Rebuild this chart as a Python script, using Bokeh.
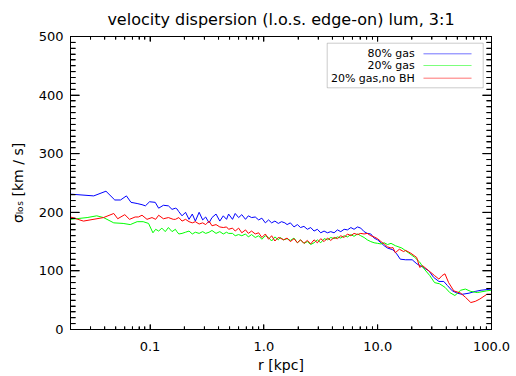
import math
from bokeh.plotting import figure
from bokeh.models import (LogAxis, LinearAxis, FixedTicker, SingleIntervalTicker,
                          Label, BoxAnnotation, ColumnDataSource, CustomJSTickFormatter)
from bokeh.embed import file_html
from bokeh.resources import INLINE

title = "velocity dispersion (l.o.s. edge-on) lum, 3:1"
x_label = "r [kpc]"
y_label = "σₗₒₛ [km / s]"
series_names = ["80% gas", "20% gas", "20% gas,no BH"]
series_colors = ["#0000ff", "#00ff00", "#ff0000"]

x_lim = (0.02, 100)
y_lim = (0, 500)
x_major = [0.1, 1, 10, 100]
x_major_labels = {0.1: "0.1", 1: "1.0", 10: "10.0", 100: "100.0"}
x_minor = [0.02, 0.03, 0.04, 0.05, 0.06, 0.07, 0.08, 0.09,
           0.2, 0.3, 0.4, 0.5, 0.6, 0.7, 0.8, 0.9,
           2, 3, 4, 5, 6, 7, 8, 9,
           20, 30, 40, 50, 60, 70, 80, 90]
y_major = [0, 100, 200, 300, 400, 500]
y_minor = [v for v in range(10, 500, 10) if v % 100]

r_80 = [0.020, 0.032, 0.041, 0.049, 0.055, 0.062, 0.068, 0.077, 0.085, 0.091, 0.099, 0.111,
        0.119, 0.131, 0.145, 0.156, 0.167, 0.172, 0.179, 0.191, 0.205, 0.22, 0.235, 0.25,
        0.27, 0.29, 0.308, 0.33, 0.35, 0.38, 0.41, 0.44, 0.47, 0.49, 0.53, 0.56, 0.60, 0.64,
        0.69, 0.73, 0.78, 0.84, 0.90, 0.96, 1.03, 1.10, 1.17, 1.25, 1.34, 1.43, 1.53, 1.60,
        1.71, 1.84, 1.97, 2.1, 2.25, 2.41, 2.58, 2.76, 2.95, 3.16, 3.38, 3.62, 3.87, 4.14,
        4.43, 4.74, 5.07, 5.43, 5.81, 6.2, 6.65, 7.1, 7.6, 8.1, 8.7, 9.3, 9.97, 10.7, 11.4,
        12.2, 13.1, 13.6, 14.7, 15.8, 17.6, 20.1, 22.1, 24.6, 28.2, 31, 34.5, 38.1, 41,
        45.2, 50, 55, 63.5, 72, 81, 100]
s_80 = [231, 228, 236, 221, 221, 228, 217, 215, 213, 211, 218, 217,
        207, 212, 211, 205, 207, 206, 201, 194, 200, 188, 197, 185,
        200, 187, 192, 182, 191, 197, 185, 194, 188, 197, 188, 198, 191, 196,
        188, 194, 191, 192, 187, 190, 182, 187, 182, 185, 181, 184, 182, 179,
        182, 175, 179, 174, 176, 171, 174, 168, 171, 165, 168, 165, 167, 165,
        170, 167, 171, 170, 174, 171, 175, 173, 167, 164, 163, 156, 153, 148, 143,
        139, 137, 136, 129, 120, 119, 119, 112, 107, 100, 89, 82, 82, 75,
        66, 62, 60, 62, 65, 67, 69]

r_20 = [0.020, 0.028, 0.034, 0.039, 0.048, 0.058, 0.067, 0.077, 0.087, 0.097, 0.106, 0.112,
        0.119, 0.127, 0.136, 0.145, 0.156, 0.167, 0.172, 0.179, 0.191, 0.205, 0.22, 0.235,
        0.25, 0.27, 0.29, 0.308, 0.33, 0.35, 0.38, 0.41, 0.44, 0.47, 0.49, 0.53, 0.56, 0.60,
        0.64, 0.69, 0.73, 0.78, 0.84, 0.90, 0.96, 1.03, 1.10, 1.17, 1.25, 1.34, 1.39, 1.49,
        1.60, 1.71, 1.84, 1.97, 2.1, 2.25, 2.41, 2.58, 2.76, 2.95, 3.16, 3.38, 3.62, 3.87,
        4.14, 4.43, 4.74, 5.07, 5.43, 5.81, 6.2, 6.65, 7.1, 7.6, 8.1, 8.7, 9.3, 9.97, 10.7,
        11.4, 12.2, 13.1, 14.3, 16.3, 18.6, 21.2, 23.4, 25.7, 28.7, 31.6, 35, 39, 43, 47.7,
        53.6, 59, 65.8, 75, 91, 100]
s_20 = [188, 191, 194, 191, 182, 181, 179, 184, 184, 181, 165, 171,
        168, 173, 167, 174, 167, 171, 167, 163, 164, 166, 168, 163,
        166, 164, 167, 164, 166, 169, 164, 167, 163, 166, 164, 164, 160, 162,
        160, 163, 158, 162, 157, 160, 154, 160, 157, 151, 158, 153, 157, 153,
        155, 152, 156, 148, 153, 147, 150, 145, 148, 153, 148, 155, 153, 157,
        155, 158, 156, 160, 158, 162, 159, 163, 160, 157, 153, 150, 148, 147, 146,
        148, 145, 147, 143, 139, 131, 123, 115, 103, 92, 80, 78, 72, 63, 58,
        67, 69, 65, 63, 66, 67]

r_20nobh = [0.020, 0.026, 0.039, 0.048, 0.052, 0.060, 0.066, 0.074, 0.079, 0.085, 0.094, 0.104,
            0.112, 0.119, 0.131, 0.145, 0.160, 0.167, 0.179, 0.191, 0.205, 0.22, 0.235, 0.25,
            0.27, 0.29, 0.308, 0.33, 0.35, 0.38, 0.41, 0.44, 0.47, 0.49, 0.53, 0.56, 0.60, 0.64,
            0.69, 0.73, 0.78, 0.84, 0.90, 0.96, 1.03, 1.10, 1.17, 1.25, 1.34, 1.39, 1.49, 1.60,
            1.71, 1.84, 1.97, 2.1, 2.25, 2.41, 2.58, 2.76, 2.95, 3.16, 3.38, 3.62, 3.87, 4.14,
            4.43, 4.74, 5.07, 5.43, 5.81, 6.2, 6.65, 7.1, 7.6, 8.1, 8.7, 9.3, 9.97, 10.7, 11.4,
            12.2, 13.1, 13.6, 14.3, 15.5, 16.9, 17.6, 19.6, 22, 23.4, 24.8, 28.2, 31.6, 34.5,
            36.8, 39, 42, 46.6, 53.6, 59, 65.8, 72, 79, 91, 100]
s_20nobh = [192, 185, 191, 198, 189, 196, 188, 192, 192, 195, 188, 191,
            188, 195, 189, 191, 188, 188, 191, 185, 188, 184, 182, 184,
            180, 182, 179, 185, 177, 179, 175, 174, 175, 171, 173, 168, 173, 165,
            170, 164, 168, 163, 165, 157, 163, 154, 160, 151, 157, 156, 153, 156,
            150, 155, 148, 153, 147, 152, 146, 153, 148, 155, 150, 156, 152, 157,
            155, 160, 157, 163, 160, 164, 162, 164, 163, 164, 160, 158, 155, 150, 146,
            141, 139, 140, 131, 137, 133, 135, 130, 123, 106, 109, 100, 92, 86,
            92, 95, 80, 66, 62, 55, 46, 48, 52, 60, 60]

FONT = "DejaVu Sans"

p = figure(width=516, height=376, x_axis_type="log", x_range=x_lim, y_range=y_lim,
           output_backend="svg", toolbar_location=None,
           min_border_left=70, min_border_right=25, min_border_top=35, min_border_bottom=47)
p.grid.visible = False
p.outline_line_color = "black"
p.background_fill_color = None

p.title.text = title
p.title.align = "center"
p.title.text_font = FONT
p.title.text_font_size = "16px"
p.title.text_font_style = "normal"
p.title.text_color = "black"
p.title.standoff = 15


def style_axis(ax, show_labels, major_len, minor_len):
    ax.axis_line_color = "black"
    ax.major_tick_in = major_len
    ax.major_tick_out = 0
    ax.minor_tick_in = minor_len
    ax.minor_tick_out = 0
    ax.major_label_text_font = FONT
    ax.major_label_text_font_size = "13px"
    ax.major_label_text_color = "black"
    ax.axis_label_text_font = FONT
    ax.axis_label_text_font_style = "normal"
    ax.axis_label_text_color = "black"
    if not show_labels:
        ax.formatter = CustomJSTickFormatter(code="return ''")
        ax.major_label_standoff = 0


xa = p.xaxis[0]
xa.ticker = FixedTicker(ticks=x_major, minor_ticks=x_minor)
xa.major_label_overrides = x_major_labels
style_axis(xa, True, 5, 3)
xa.major_label_standoff = 12
xa.axis_label = x_label
xa.axis_label_text_font_size = "14px"
xa.axis_label_standoff = 3

ya = p.yaxis[0]
ya.ticker = SingleIntervalTicker(interval=100, num_minor_ticks=10)
style_axis(ya, True, 9, 5)
ya.major_label_standoff = 7
ya.axis_label = y_label
ya.axis_label_text_font_size = "14px"
ya.axis_label_standoff = 10

top = LogAxis(ticker=FixedTicker(ticks=x_major, minor_ticks=x_minor))
style_axis(top, False, 5, 3)
p.add_layout(top, "above")
right = LinearAxis(ticker=SingleIntervalTicker(interval=100, num_minor_ticks=10))
style_axis(right, False, 9, 5)
p.add_layout(right, "right")

# inward tick marks on all four sides, placed at the tick values
for ticks, length in [(x_major, 5), (x_minor, 3)]:
    p.ray(x=ticks, y=[y_lim[0]] * len(ticks), length=length, length_units="screen",
          angle=math.pi / 2, line_color="black", line_width=1)
    p.ray(x=ticks, y=[y_lim[1]] * len(ticks), length=length, length_units="screen",
          angle=-math.pi / 2, line_color="black", line_width=1)
for ticks, length in [(y_major, 9), (y_minor, 5)]:
    p.ray(x=[x_lim[0]] * len(ticks), y=ticks, length=length, length_units="screen",
          angle=0, line_color="black", line_width=1)
    p.ray(x=[x_lim[1]] * len(ticks), y=ticks, length=length, length_units="screen",
          angle=math.pi, line_color="black", line_width=1)

for xs, ys, c in [(r_80, s_80, series_colors[0]), (r_20, s_20, series_colors[1]),
                  (r_20nobh, s_20nobh, series_colors[2])]:
    src = ColumnDataSource(dict(r=xs, s=ys))
    p.line("r", "s", source=src, line_color=c, line_width=1)

# legend frame (screen units, relative to the plot frame)
p.add_layout(BoxAnnotation(left=256.7, right=412.7, top=286.3, bottom=241.7,
                           left_units="screen", right_units="screen",
                           top_units="screen", bottom_units="screen",
                           fill_color="white", fill_alpha=1.0,
                           line_color="#555555", line_width=1))

for name, c, yy in zip(series_names, series_colors, [275.7, 264.0, 251.3]):
    p.add_layout(Label(x=344.3, y=yy, x_units="screen", y_units="screen", text=name,
                       text_align="right", text_baseline="middle",
                       text_font=FONT, text_font_size="11px", text_color="black"))
    p.add_layout(BoxAnnotation(left=353, right=401, top=yy, bottom=yy,
                               left_units="screen", right_units="screen",
                               top_units="screen", bottom_units="screen",
                               fill_alpha=0, line_color=c, line_width=1))

open("out.html", "w").write(file_html(p, INLINE))
